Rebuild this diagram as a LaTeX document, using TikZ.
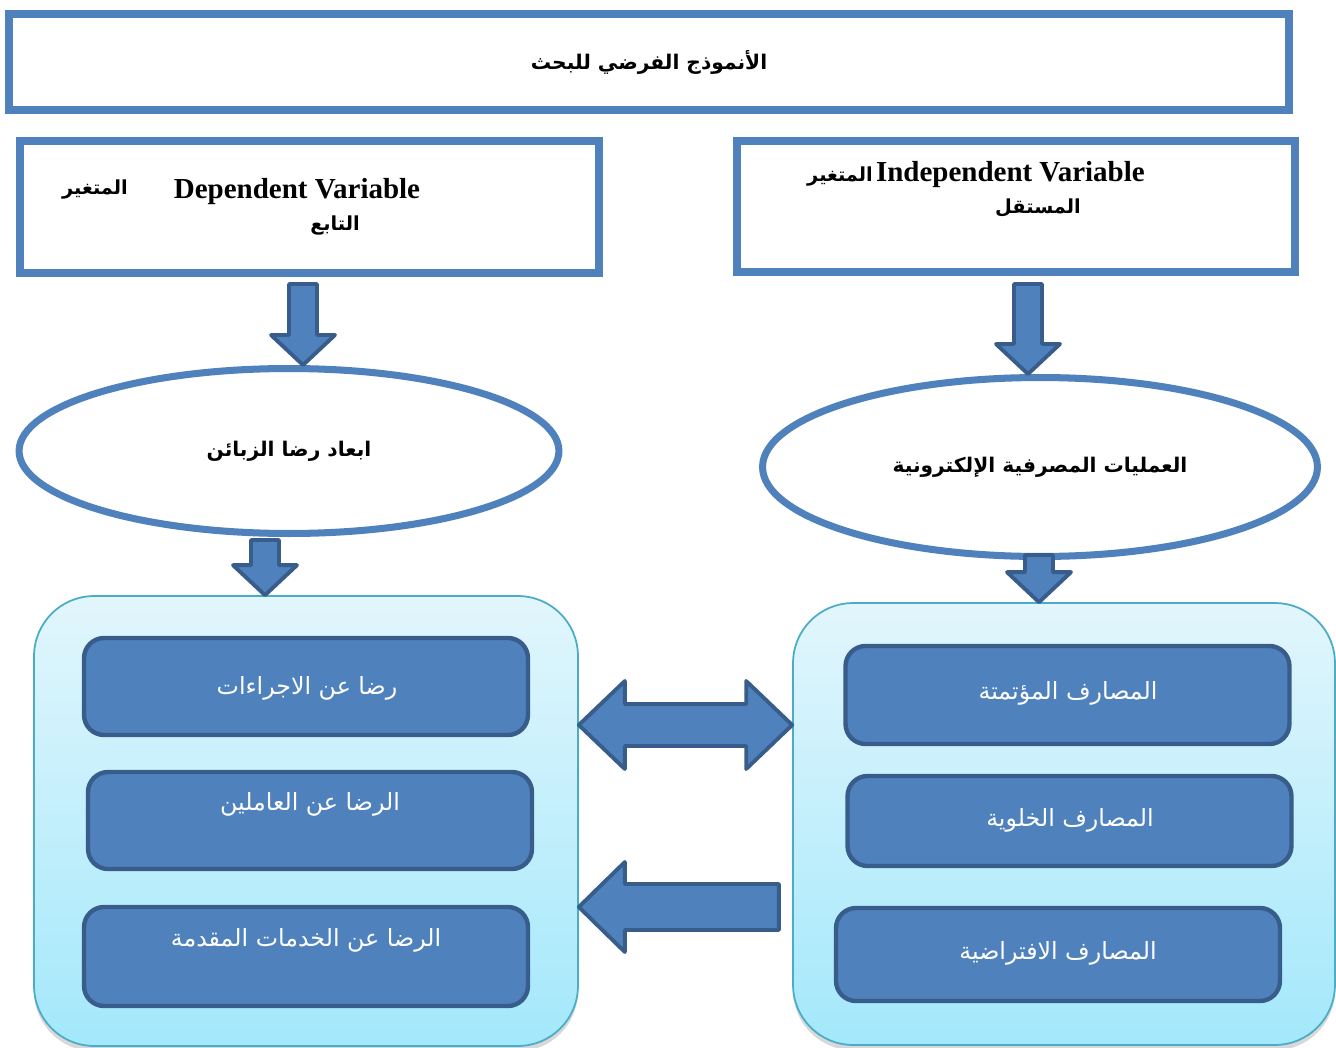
\documentclass[tikz,border=0pt]{standalone}
\usepackage{fontspec}
\setmainfont{Liberation Serif}
\newfontfamily\arabicfont[Script=Arabic]{DejaVu Sans}
\TeXXeTstate=1
\usepackage{tikz}
\usetikzlibrary{calc,shadows,shapes.geometric}

\definecolor{boxBlue}{RGB}{79,129,189}
\definecolor{edgeBlue}{RGB}{56,93,138}
\definecolor{groupEdge}{RGB}{75,172,198}
\definecolor{groupTop}{RGB}{226,246,252}
\definecolor{groupBottom}{RGB}{163,232,251}

\newcommand{\arBold}[1]{{\arabicfont\bfseries\beginR #1\endR}}
\newcommand{\arPlain}[1]{{\arabicfont\beginR #1\endR}}
\newcommand{\shaftHalf}{14}
\newcommand{\headHalf}{32}
\newcommand{\headLength}{30}

% down block arrow, from #1 to the tip #2
\newcommand{\blockDown}[2]{
	\draw[blockArrow] ($(#1)+(-\shaftHalf,0)$) -- ($(#2)+(-\shaftHalf,-\headLength)$) -- ($(#2)+(-\headHalf,-\headLength)$) -- (#2) -- ($(#2)+(\headHalf,-\headLength)$) -- ($(#2)+(\shaftHalf,-\headLength)$) -- ($(#1)+(\shaftHalf,0)$) -- cycle;
}

\begin{document}
\begin{tikzpicture}[x=0.02cm, y=-0.02cm,
	outerBox/.style={draw=boxBlue, line width=4.5pt, fill=white, inner sep=0pt},
	varEllipse/.style={ellipse, draw=boxBlue, line width=4pt, fill=white, inner sep=0pt},
	groupBox/.style={draw=groupEdge, line width=1pt, rounded corners=1.2cm, top color=groupTop, bottom color=groupBottom, drop shadow={opacity=0.3, shadow xshift=0pt, shadow yshift=-3pt}},
	itemBox/.style={draw=edgeBlue, fill=boxBlue, line width=2.5pt, rounded corners=0.4cm, inner sep=0pt, minimum width=8.88cm},
	itemText/.style={text=white, font=\fontsize{13.5}{16}\selectfont},
	headText/.style={font=\fontsize{11.5}{14}\selectfont},
	labelText/.style={font=\fontsize{11}{13}\selectfont},
	latinText/.style={font=\fontsize{16.5}{19}\selectfont\bfseries},
	blockArrow/.style={draw=edgeBlue, fill=boxBlue, line width=2.2pt, line join=round}]

	\fill[white] (0,0) rectangle (1336,1048);
	\useasboundingbox (0,0) rectangle (1336,1048);

	% title and the two variables
	\node[outerBox, minimum width=25.6cm, minimum height=1.92cm] (title) at (649,62) {};
	\node[headText] (titleTxt) at (title.center) {\arBold{الأنموذج الفرضي للبحث}};

	\node[outerBox, minimum width=11.58cm, minimum height=2.64cm] (dep) at (309.5,207) {};
	\node[latinText] (depEn) at (297,192) {Dependent Variable};
	\node[labelText] (depAr) at (95,190) {\arBold{المتغير}};
	\node[labelText] (depAr2) at (335,226) {\arBold{التابع}};

	\node[outerBox, minimum width=11.16cm, minimum height=2.62cm] (indep) at (1016,206.5) {};
	\node[labelText] (indepTxt) at (976,175) {\arBold{المتغير}\,{\fontsize{16.5}{19}\selectfont\bfseries Independent Variable}};
	\node[labelText] (indepAr2) at (1038,208) {\arBold{المستقل}};

	% ellipses
	\node[varEllipse, minimum width=10.8cm, minimum height=3.3cm, headText] (depEll) at (289,451) {\arBold{ابعاد رضا الزبائن}};
	\node[varEllipse, minimum width=11.1cm, minimum height=3.58cm, headText] (indepEll) at (1040,467) {\arBold{العمليات المصرفية الإلكترونية}};

	% groups
	\node[groupBox, minimum width=10.88cm, minimum height=9cm] (leftGroup) at (306,821) {};
	\node[groupBox, minimum width=10.84cm, minimum height=8.84cm] (rightGroup) at (1064,824) {};

	\node[itemBox, minimum height=1.94cm] (L1) at (306,686.5) {};
	\node[itemBox, minimum height=1.94cm] (L2) at (310,820.5) {};
	\node[itemBox, minimum height=1.98cm] (L3) at (306,956.5) {};
	\node[itemText] (L1txt) at (307,688) {\arPlain{رضا عن الاجراءات}};
	\node[itemText] (L2txt) at (310,804) {\arPlain{الرضا عن العاملين}};
	\node[itemText] (L3txt) at (306,940) {\arPlain{الرضا عن الخدمات المقدمة}};

	\node[itemBox, minimum height=1.96cm] (R1) at (1067.5,695) {};
	\node[itemBox, minimum height=1.8cm] (R2) at (1069.5,821) {};
	\node[itemBox, minimum height=1.86cm] (R3) at (1058,954.5) {};
	\node[itemText] (R1txt) at (1068,693) {\arPlain{المصارف المؤتمتة}};
	\node[itemText] (R2txt) at (1070,820) {\arPlain{المصارف الخلوية}};
	\node[itemText] (R3txt) at (1058,953) {\arPlain{المصارف الافتراضية}};

	% block arrows
	\coordinate (depOut) at (303,284);
	\coordinate (depTip) at (depOut |- depEll.north);
	\blockDown{depOut}{depTip}
	\coordinate (indepOut) at (1028,284);
	\coordinate (indepTip) at (indepOut |- indepEll.north);
	\blockDown{indepOut}{indepTip}
	\coordinate (depEllOut) at (265,540);
	\coordinate (leftTip) at (depEllOut |- leftGroup.north);
	\blockDown{depEllOut}{leftTip}
	\coordinate (indepEllOut) at (1039,555);
	\coordinate (rightTip) at (indepEllOut |- rightGroup.north);
	\blockDown{indepEllOut}{rightTip}

	\coordinate (bothL) at (leftGroup.east |- 0,725);
	\coordinate (bothR) at (rightGroup.west |- 0,725);
	\draw[blockArrow] (bothL) -- ($(bothL)+(46,-44)$) -- ($(bothL)+(46,-21)$) -- ($(bothR)+(-46,-21)$) -- ($(bothR)+(-46,-44)$) -- (bothR) -- ($(bothR)+(-46,44)$) -- ($(bothR)+(-46,21)$) -- ($(bothL)+(46,21)$) -- ($(bothL)+(46,44)$) -- cycle;

	\coordinate (backTip) at (leftGroup.east |- 0,907);
	\draw[blockArrow] (backTip) -- ($(backTip)+(46,-45)$) -- ($(backTip)+(46,-23)$) -- ($(backTip)+(200,-23)$) -- ($(backTip)+(200,23)$) -- ($(backTip)+(46,23)$) -- ($(backTip)+(46,45)$) -- cycle;
\end{tikzpicture}
\end{document}
